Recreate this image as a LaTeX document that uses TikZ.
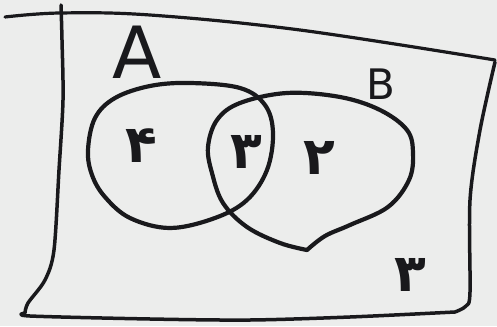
\documentclass[tikz,border=0pt]{standalone}
\usepackage{fontspec}
\setmainfont{DejaVu Sans}
\newfontfamily\arabicfont[Script=Arabic]{DejaVu Sans}
\begin{document}
\begin{tikzpicture}[x=1pt,y=-1pt,
  ink/.style={line width=4.2pt,color=inkcol,line cap=round,line join=round},
  digit/.style={text=inkcol,font=\arabicfont\bfseries\fontsize{52}{60}\selectfont,inner sep=0pt},
  letter/.style={text=inkcol,inner sep=0pt}]
\definecolor{inkcol}{RGB}{25,25,28}
\definecolor{paper}{RGB}{236,237,236}
\fill[paper] (0,0) rectangle (497,326);
\useasboundingbox (0,0) rectangle (497,326);
% frame
\draw[ink,line width=3.2pt] plot[smooth,tension=0.6] coordinates {(5,17) (60,13) (150,15) (300,30) (495,60)};
\draw[ink,line width=3.5pt] plot[smooth,tension=0.5] coordinates {(61,5) (62,40) (63,100) (59,170) (54,250) (45,280) (28,303) (25,313)}
  -- plot[smooth,tension=0.5] coordinates {(25,313) (30,316) (150,319) (250,320) (350,317) (455,312)}
  -- plot[smooth,tension=0.5] coordinates {(455,312) (466,306) (470,292) (470,200) (480,130) (495,62)};
% set A
\draw[ink] plot[smooth cycle,tension=0.6] coordinates {(88,150) (95,118) (115,98) (150,86) (190,83) (240,88) (265,105) (273,133) (267,170) (247,200) (215,218) (170,228) (130,218) (105,197) (92,175)};
% set B
\draw[ink] plot[smooth,tension=0.6] coordinates {(307,250) (280,243) (247,227) (223,203) (212,173) (208,147) (217,120) (240,103) (287,93) (340,97) (380,110) (407,130) (413,153) (409,180) (388,207) (350,225) (325,236) (307,250)};
% labels
\node[letter,font=\fontsize{72}{80}\selectfont] (la) at (137,52) {A};
\node[letter,font=\fontsize{42}{48}\selectfont] (lb) at (381,84) {B};
\node[digit] (da) at (141,146) {۴};
\node[digit] (dab) at (246,152) {۳};
\node[digit] (db) at (319,158) {۲};
\node[digit] (du) at (410,275) {۳};
\end{tikzpicture}
\end{document}
